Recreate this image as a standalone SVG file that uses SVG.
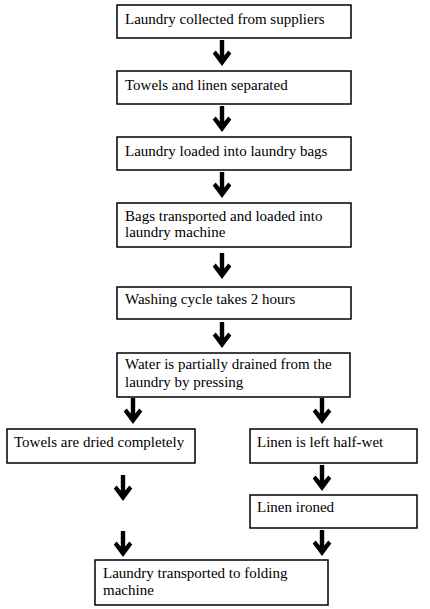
<svg xmlns="http://www.w3.org/2000/svg" xmlns:xlink="http://www.w3.org/1999/xlink" width="430" height="609" viewBox="0 0 430 609">
<style>
.box{fill:#fff;stroke:#000;stroke-width:1.5}
.t{font-family:"Liberation Serif","Times New Roman",serif;font-size:15px;fill:#000}
.arrow{fill:#000;stroke:none}
</style>
<defs>
<path id="arr" class="arrow" d="M-2.2,0 H2.2 V15.5 L6.3,10.5 L9.3,13.5 L0,26 L-9.3,13.5 L-6.3,10.5 L-2.2,15.5 Z"/>
</defs>
<rect width="430" height="609" fill="#fff"/>
<g id="connectors">
<use xlink:href="#arr" x="222" y="40"/>
<use xlink:href="#arr" x="222" y="106"/>
<use xlink:href="#arr" x="222" y="172"/>
<use xlink:href="#arr" x="222" y="253"/>
<use xlink:href="#arr" x="222" y="322"/>
<use xlink:href="#arr" x="133" y="398"/>
<use xlink:href="#arr" x="322" y="398"/>
<use xlink:href="#arr" x="322" y="465"/>
<use xlink:href="#arr" x="123" y="475"/>
<use xlink:href="#arr" x="123" y="531"/>
<use xlink:href="#arr" x="322" y="530"/>
</g>
<g id="n1"><rect class="box" x="117" y="5" width="234" height="33"/><text class="t" x="125" y="24">Laundry collected from suppliers</text></g>
<g id="n2"><rect class="box" x="117" y="71" width="234" height="33"/><text class="t" x="125" y="90">Towels and linen separated</text></g>
<g id="n3"><rect class="box" x="117" y="137" width="234" height="33"/><text class="t" x="125" y="156">Laundry loaded into laundry bags</text></g>
<g id="n4"><rect class="box" x="117" y="203" width="234" height="44"/><text class="t" x="125" y="221">Bags transported and loaded into</text><text class="t" x="125" y="237">laundry machine</text></g>
<g id="n5"><rect class="box" x="117" y="287" width="234" height="32"/><text class="t" x="125" y="304">Washing cycle takes 2 hours</text></g>
<g id="n6"><rect class="box" x="117" y="353" width="233" height="44"/><text class="t" x="125" y="369">Water is partially drained from the</text><text class="t" x="125" y="387">laundry by pressing</text></g>
<g id="n7"><rect class="box" x="7" y="429" width="188" height="34"/><text class="t" x="14" y="447">Towels are dried completely</text></g>
<g id="n8"><rect class="box" x="250" y="429" width="167" height="34"/><text class="t" x="257" y="447">Linen is left half-wet</text></g>
<g id="n9"><rect class="box" x="250" y="495" width="167" height="33"/><text class="t" x="257" y="512">Linen ironed</text></g>
<g id="n10"><rect class="box" x="95" y="560" width="233" height="45"/><text class="t" x="103" y="578">Laundry transported to folding</text><text class="t" x="103" y="595">machine</text></g>
</svg>
